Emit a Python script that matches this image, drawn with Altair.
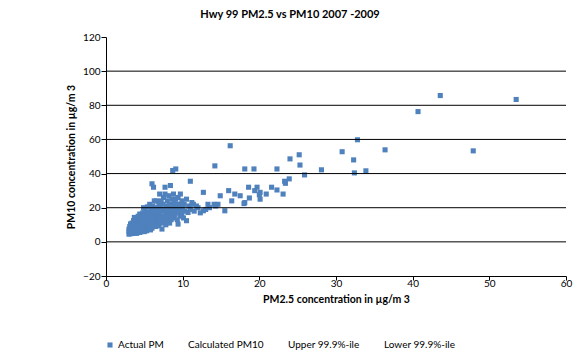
import altair as alt
import pandas as pd

# Scatter data: PM2.5 (x) vs PM10 (y)
pm25 = [
    3.0, 3.0, 3.0, 3.1, 3.1, 3.2, 3.2, 3.3, 3.3, 3.4, 3.4, 3.5, 3.5, 3.6, 3.6, 3.7, 3.7, 3.8, 3.8, 3.9,
    4.0, 4.0, 4.0, 4.1, 4.1, 4.2, 4.2, 4.3, 4.3, 4.4, 4.4, 4.5, 4.5, 4.6, 4.6, 4.7, 4.7, 4.8, 4.8, 4.9, 4.9,
    5.0, 5.0, 5.0, 5.1, 5.1, 5.2, 5.2, 5.3, 5.3, 5.4, 5.4, 5.5, 5.5, 5.6, 5.6, 5.7, 5.7, 5.8, 5.8, 5.9, 5.9,
    6.0, 6.0, 6.0, 6.1, 6.1, 6.2, 6.2, 6.3, 6.3, 6.4, 6.4, 6.5, 6.5, 6.6, 6.6, 6.7, 6.7, 6.8, 6.8, 6.9, 6.9,
    7.0, 7.0, 7.0, 7.1, 7.2, 7.2, 7.3, 7.3, 7.4, 7.4, 7.5, 7.5, 7.6, 7.6, 7.7, 7.7, 7.8, 7.8, 7.9, 7.9,
    8.0, 8.0, 8.1, 8.1, 8.2, 8.2, 8.3, 8.3, 8.4, 8.4, 8.5, 8.5, 8.6, 8.6, 8.7, 8.7, 8.8, 8.8, 8.9, 8.9,
    9.0, 9.0, 9.1, 9.1, 9.2, 9.3, 9.3, 9.4, 9.4, 9.5, 9.5, 9.6, 9.7, 9.7, 9.8, 9.9, 9.9,
    10.0, 10.1, 10.2, 10.3, 10.5, 10.5, 10.7, 10.8, 11.0, 11.0, 11.2, 11.4, 11.5, 11.8, 12.0, 12.3, 12.7, 12.7,
    13.0, 13.3, 13.5, 14.1, 14.2, 14.3, 14.6, 14.9, 15.5, 16.0, 16.2, 16.4, 16.8, 17.5, 18.0, 18.1, 18.1,
    18.6, 18.7, 19.3, 19.4, 19.7, 20.0, 20.1, 20.1, 20.9, 21.6, 22.3, 22.3, 23.1, 23.3, 23.4, 23.9, 24.0,
    25.2, 25.3, 25.9, 28.1, 30.8, 32.3, 32.4, 32.8, 33.9, 36.4, 40.7, 43.6, 47.9, 53.5,
]
pm10 = [
    4.5, 6.0, 7.5, 9.0, 5.0, 10.5, 7.0, 4.8, 8.5, 6.0, 11.0, 5.5, 9.5, 7.5, 12.5, 5.0, 14.3, 9.0, 6.5, 11.5,
    5.0, 8.0, 13.0, 10.0, 6.5, 15.0, 12.0, 7.0, 9.0, 16.3, 5.5, 11.0, 13.5, 8.0, 6.0, 14.0, 10.0, 17.0, 7.0, 20.0, 12.0,
    6.0, 9.0, 15.0, 11.0, 18.0, 7.5, 13.0, 6.5, 16.0, 10.0, 20.5, 8.0, 14.0, 12.0, 17.5, 22.0, 9.0, 15.0, 7.0, 19.0, 11.0,
    34.0, 13.0, 8.0, 17.0, 21.0, 32.0, 10.0, 15.0, 24.0, 12.0, 19.0, 9.0, 16.0, 24.0, 13.0, 20.0, 11.0, 18.0, 14.0, 22.0, 9.5,
    28.0, 12.0, 16.0, 20.0, 14.0, 24.0, 7.5, 18.0, 11.0, 22.0, 15.0, 26.0, 13.0, 19.0, 32.0, 28.0, 10.0, 17.0, 21.0, 14.0,
    12.0, 24.0, 18.0, 15.0, 27.0, 20.0, 11.0, 22.0, 33.0, 16.0, 19.0, 13.0, 25.0, 21.0, 41.8, 17.0, 28.0, 14.0, 23.0, 19.0,
    16.0, 21.0, 42.7, 25.0, 18.0, 13.0, 22.0, 26.0, 10.4, 20.0, 17.0, 22.0, 15.0, 28.0, 19.0, 24.0, 16.0,
    20.0, 14.0, 22.0, 18.0, 12.4, 25.0, 17.2, 21.0, 35.5, 19.0, 23.0, 22.0, 18.0, 21.0, 20.0, 17.0, 18.2, 29.0,
    19.0, 22.0, 20.0, 22.0, 44.5, 21.0, 22.0, 27.0, 18.2, 30.0, 56.3, 24.0, 28.0, 27.0, 22.4, 42.7, 23.0,
    32.0, 25.7, 42.7, 30.0, 32.0, 27.6, 29.0, 25.0, 28.0, 32.0, 30.4, 42.7, 28.0, 35.5, 34.3, 36.9, 48.6,
    51.0, 45.0, 39.2, 42.2, 52.8, 48.0, 40.4, 59.8, 41.6, 53.9, 76.3, 85.7, 53.3, 83.4,
]
series_names = ["Actual PM", "Calculated PM10", "Upper 99.9%-ile", "Lower 99.9%-ile"]
series_colors = ["#4F81BD", "transparent", "transparent", "transparent"]
grid_values = [0, 20, 40, 60, 80, 100]
y_ticks = [-20, 0, 20, 40, 60, 80, 100, 120]
x_ticks = [0, 10, 20, 30, 40, 50, 60]

df = pd.DataFrame({"pm25": pm25, "pm10": pm10, "series": ["Actual PM"] * len(pm25)})
grid_df = pd.DataFrame({"g": grid_values})

FONT = "Lato"

y_scale = alt.Scale(domain=[-20, 120], nice=False)
y_axis = alt.Axis(
    values=y_ticks, title="PM10 concentration in µg/m 3", grid=False,
    tickSize=5, labelPadding=1, titlePadding=6,
    labelOverlap=False, labelFlush=False,
)

points = alt.Chart(df).mark_point(shape="square", filled=True, opacity=1, size=26).encode(
    x=alt.X(
        "pm25:Q",
        scale=alt.Scale(domain=[0, 60], nice=False),
        axis=alt.Axis(
            values=x_ticks, title="PM2.5 concentration in µg/m 3", grid=False,
            tickSize=4, labelPadding=-2, titlePadding=6,
            labelOverlap=False, labelFlush=False,
        ),
    ),
    y=alt.Y("pm10:Q", scale=y_scale, axis=y_axis),
    color=alt.Color(
        "series:N",
        scale=alt.Scale(domain=series_names, range=series_colors),
        legend=alt.Legend(
            title=None, orient="none", direction="horizontal", legendX=-1, legendY=303,
            symbolType="square", symbolSize=26, columnPadding=11, labelOffset=3,
            labelFont=FONT, labelFontSize=10, labelColor="black",
        ),
    ),
)

grid = alt.Chart(grid_df).mark_rule(color="black", strokeWidth=1).encode(
    y=alt.Y("g:Q", scale=y_scale, axis=y_axis)
)

chart = (
    alt.layer(points, grid)
    .properties(
        width=460,
        height=239,
        padding={"left": 98, "top": 29, "right": 10, "bottom": 75},
        autosize=alt.AutoSizeParams(type="none"),
        title=alt.TitleParams(
            "Hwy 99 PM2.5 vs PM10 2007 -2009", font=FONT, fontSize=11, fontWeight="bold",
            color="black", anchor="middle", dx=-46, offset=12,
        ),
    )
    .configure_view(stroke=None)
    .configure_axis(
        labelFont=FONT, labelFontSize=10, labelColor="black",
        titleFont=FONT, titleFontSize=10.5, titleFontWeight="bold", titleColor="black",
        domainColor="black", tickColor="black", domainWidth=1, tickWidth=1,
    )
)

chart.save("out.html", embed_options={"renderer": "svg", "actions": False})
